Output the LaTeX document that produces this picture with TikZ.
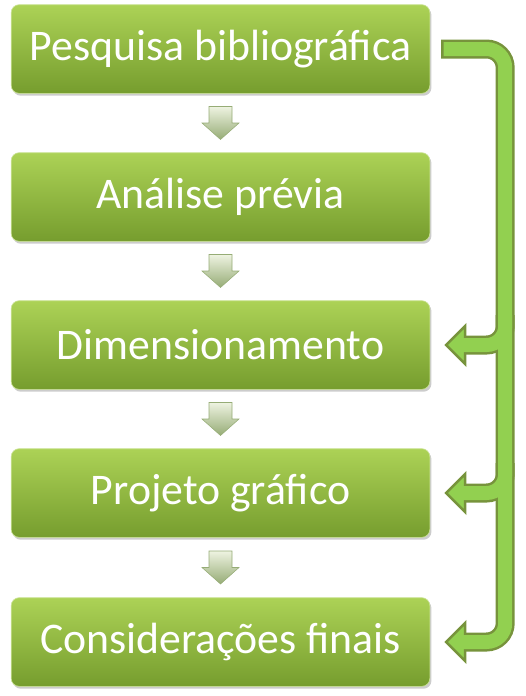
\documentclass[tikz,border=0pt]{standalone}
\usepackage{fontspec}
\setmainfont{Carlito}
\usetikzlibrary{calc,shadows}

\definecolor{boxtop}{RGB}{172,210,86}
\definecolor{boxbot}{RGB}{118,157,46}
\definecolor{linkfill}{RGB}{146,208,80}
\definecolor{linkline}{RGB}{119,147,60}
\definecolor{tiptop}{RGB}{238,243,225}
\definecolor{tipbot}{RGB}{150,172,118}

\begin{document}
\begin{tikzpicture}[x=0.75pt, y=-0.75pt,
  stage/.style={rounded corners=6pt, minimum width=314pt, minimum height=66.5pt,
    top color=boxtop, bottom color=boxbot, draw=boxtop!60!white, line width=0.5pt,
    text=white, font=\fontsize{32.8}{38}\selectfont,
    drop shadow={opacity=0.4, shadow xshift=1.2pt, shadow yshift=-1.8pt}},
  hint/.style={top color=tiptop, bottom color=tipbot, draw=tipbot, line width=0.4pt},
  outer/.style={linkline, line width=14.25pt, rounded corners=14pt},
  inner/.style={linkfill, line width=10.5pt, rounded corners=14pt},
  head/.style={fill=linkfill, draw=linkline, line width=1.9pt, line join=miter}]

\useasboundingbox (0,0) rectangle (525,696);

\node[stage] (b1) at (220.5,49) {Pesquisa bibliográfica};
\node[stage] (b2) at (220.5,197) {Análise prévia};
\node[stage] (b3) at (220.5,345) {Dimensionamento};
\node[stage] (b4) at (220.5,493) {Projeto gráfico};
\node[stage] (b5) at (220.5,642) {Considerações finais};

% small arrows between the stages
\foreach \a/\b in {b1/b2, b2/b3, b3/b4, b4/b5}
{
  \path ($(\a.south)!0.5!(\b.north)$) coordinate (m);
  \draw[hint, shift={(m)}] (-11.5,-16.5) -- (11.5,-16.5) -- (11.5,0) -- (18.5,0)
    -- (0,16.5) -- (-18.5,0) -- (-11.5,0) -- cycle;
}

% feedback connector
\coordinate (c0) at ($(b1.east)+(11,0)$);
\coordinate (c1) at ($(b1.east)+(75,0)$);
\coordinate (c2) at ($(b5.east)+(75,0)$);
\coordinate (e3) at ($(b3.east)+(35,0)$);
\coordinate (e4) at ($(b4.east)+(35,0)$);
\coordinate (e5) at ($(b5.east)+(35,0)$);

\draw[outer] (c0) -- (c1) -- (c2) -- (e5);
\draw[outer] ($(c1|-e3)+(0,-30)$) -- (c1|-e3) -- (e3);
\draw[outer] ($(c1|-e4)+(0,-30)$) -- (c1|-e4) -- (e4);

\foreach \e in {e3, e4, e5}
  \draw[head] (\e) ++(0,-19) -- ++(0,38) -- ($(\e)+(-19,0)$) -- cycle;

\draw[inner] ($(c0)+(2.5,0)$) -- (c1) -- (c2) -- ($(e5)+(-3,0)$);
\draw[inner] ($(c1|-e3)+(0,-30)$) -- (c1|-e3) -- ($(e3)+(-3,0)$);
\draw[inner] ($(c1|-e4)+(0,-30)$) -- (c1|-e4) -- ($(e4)+(-3,0)$);

\end{tikzpicture}
\end{document}
